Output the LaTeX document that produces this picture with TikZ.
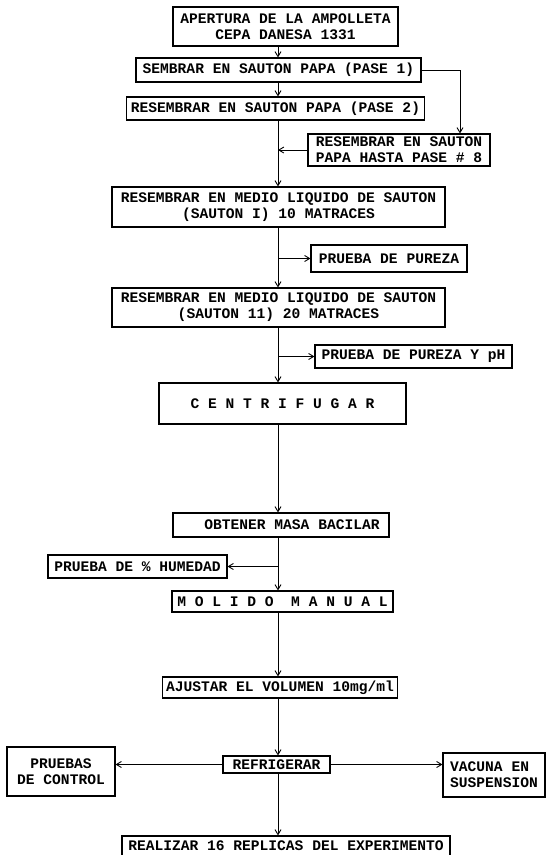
\documentclass[tikz,border=0pt]{standalone}
\usepackage{fontspec}
\newfontfamily\flowfont{Liberation Mono}
\usetikzlibrary{arrows.meta, positioning}

\begin{document}
\begin{tikzpicture}[x=1pt, y=-1pt,
  box/.style={draw, line width=1.1pt, inner xsep=4pt, inner ysep=1pt,
    font=\flowfont\bfseries\fontsize{14.6}{16}\selectfont},
  arr/.style={-{Straight Barb[length=5pt, width=6pt]}, line width=0.9pt},
]

% Page
\useasboundingbox (0,0) rectangle (547,855);
\fill[white] (0,0) rectangle (547,855);

% Guide lines
\coordinate (spine) at (278,0);
\coordinate (turn) at (460,0);

% Boxes
\node[box, minimum width=225pt, minimum height=39pt, align=center] (apertura) at (285.5,26.5) {APERTURA DE LA AMPOLLETA\\CEPA DANESA 1331};
\node[box, minimum width=285pt, minimum height=24pt] (pase1) at (278.5,70) {SEMBRAR EN SAUTON PAPA (PASE 1)};
\node[box, minimum width=295pt, minimum height=23pt] (pase2) at (275.5,108.5) {RESEMBRAR EN SAUTON PAPA (PASE 2)};
\node[box, minimum width=182pt, minimum height=32pt, align=left] (pase8) at (399,150) {RESEMBRAR EN SAUTON\\PAPA HASTA PASE \# 8};
\node[box, minimum width=333pt, minimum height=40pt, align=center] (sauton1) at (278.5,207) {RESEMBRAR EN MEDIO LIQUIDO DE SAUTON\\(SAUTON I) 10 MATRACES};
\node[box, minimum width=156pt, minimum height=27pt] (pureza) at (389,258.5) {PRUEBA DE PUREZA};
\node[box, minimum width=333pt, minimum height=39pt, align=center] (sauton2) at (278.5,307.5) {RESEMBRAR EN MEDIO LIQUIDO DE SAUTON\\(SAUTON 11) 20 MATRACES};
\node[box, minimum width=197pt, minimum height=23pt] (purezaph) at (413.5,356.5) {PRUEBA DE PUREZA Y pH};
\node[box, minimum width=247pt, minimum height=41pt] (centrifugar) at (282.5,403.5) {C E N T R I F U G A R};
\node[box, minimum width=216pt, minimum height=24pt] (obtener) at (281,525) {\hspace*{22pt}OBTENER MASA BACILAR};
\node[box, minimum width=179pt, minimum height=23pt] (humedad) at (137.5,566.5) {PRUEBA DE \% HUMEDAD};
\node[box, minimum width=221pt, minimum height=21pt] (molido) at (282.5,601.5) {M O L I D O\ \ M A N U A L};
\node[box, minimum width=234pt, minimum height=21pt] (ajustar) at (280,687.5) {AJUSTAR EL VOLUMEN 10mg/ml};
\node[box, minimum width=107pt, minimum height=17pt] (refrigerar) at (276.5,764.5) {REFRIGERAR};
\node[box, minimum width=108pt, minimum height=49pt, align=center] (pruebas) at (61,771.5) {PRUEBAS\\DE CONTROL};
\node[box, minimum width=102pt, minimum height=44pt, align=left] (vacuna) at (494,775) {VACUNA EN\\SUSPENSION};
\node[box, minimum width=328pt, minimum height=20pt] (realizar) at (286,846) {REALIZAR 16 REPLICAS DEL EXPERIMENTO};

% Main line
\draw[arr] (apertura.south -| spine) -- (pase1.north -| spine);
\draw[arr] (pase1.south -| spine) -- (pase2.north -| spine);
\draw[arr] (pase2.south -| spine) -- (sauton1.north -| spine);
\draw[arr] (sauton1.south -| spine) -- (sauton2.north -| spine);
\draw[arr] (sauton2.south -| spine) -- (centrifugar.north -| spine);
\draw[arr] (centrifugar.south -| spine) -- (obtener.north -| spine);
\draw[arr] (obtener.south -| spine) -- (molido.north -| spine);
\draw[arr] (molido.south -| spine) -- (ajustar.north -| spine);
\draw[arr] (ajustar.south -| spine) -- (refrigerar.north -| spine);
\draw[arr] (refrigerar.south -| spine) -- (realizar.north -| spine);

% Side branches
\draw[arr] (pase1.east) -| (pase8.north -| turn);
\draw[arr] (pase8.west) -- (pase8.west -| spine);
\draw[arr] (pureza.west -| spine) -- (pureza.west);
\draw[arr] (purezaph.west -| spine) -- (purezaph.west);
\draw[arr] (humedad.east -| spine) -- (humedad.east);
\draw[arr] (refrigerar.west) -- (refrigerar.west -| pruebas.east);
\draw[arr] (refrigerar.east) -- (refrigerar.east -| vacuna.west);

\end{tikzpicture}
\end{document}
